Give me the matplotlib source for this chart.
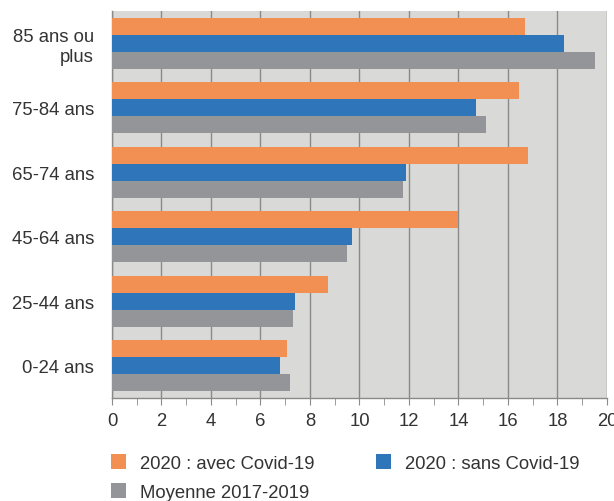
import matplotlib
matplotlib.use("Agg")
import matplotlib.pyplot as plt
import numpy as np
from matplotlib.patches import Patch

plt.rcParams['font.family'] = ['Liberation Sans', 'DejaVu Sans']

categories = ["0-24 ans", "25-44 ans", "45-64 ans", "65-74 ans", "75-84 ans", "85 ans ou\nplus"]
avec_covid = [7.06, 8.71, 14.0, 16.82, 16.43, 16.7]
sans_covid = [6.79, 7.38, 9.7, 11.87, 14.7, 18.27]
moyenne = [7.19, 7.33, 9.5, 11.74, 15.1, 19.5]
series_labels = ["2020 : avec Covid-19", "2020 : sans Covid-19", "Moyenne 2017-2019"]
colors = ["#f29054", "#2e75b9", "#949598"]

FS = 13.3
fig = plt.figure(figsize=(6.14, 5.02), dpi=100)
ax = fig.add_axes([0.1824, 0.2052, 0.8062, 0.7708])
ax.set_facecolor("#d9d9d8")

y = np.arange(len(categories))
h = 0.264
for i, (vals, c) in enumerate(zip([avec_covid, sans_covid, moyenne], colors)):
    ax.barh(y + (1 - i) * h, vals, height=h, color=c, zorder=3)

ax.set_xlim(0, 20)
ax.set_ylim(-0.5, len(categories) - 0.5)
ax.set_xticks(np.arange(0, 21, 2))
ax.set_xticks(np.arange(1, 20, 2), minor=True)
ax.set_yticks(y)
ax.set_yticklabels(categories, ha="right")
ax.grid(axis="x", which="major", color="#8a8a8a", linewidth=1.0, zorder=1)
for s in ["top", "right"]:
    ax.spines[s].set_visible(False)
for s in ["left", "bottom"]:
    ax.spines[s].set_color("#8a8a8a")
    ax.spines[s].set_linewidth(1.0)
ax.tick_params(axis="x", which="both", direction="out", length=5, color="#8a8a8a",
               labelsize=FS, labelcolor="#333333", pad=5)
ax.tick_params(axis="y", length=0, labelsize=FS, labelcolor="#333333", pad=13)

# legend filled column by column: first column avec / moyenne, second column sans
order = [0, 2, 1]
handles = [Patch(facecolor=colors[k], label=series_labels[k]) for k in order]
fig.legend(handles=handles, loc="upper left", bbox_to_anchor=(0.168, 0.108), ncol=2,
           frameon=False, fontsize=FS, labelcolor="#333333", handlelength=0.85,
           handleheight=0.85, columnspacing=3.3, handletextpad=0.75, labelspacing=0.6,
           borderaxespad=0.0)

fig.savefig("out.png", dpi=100)
